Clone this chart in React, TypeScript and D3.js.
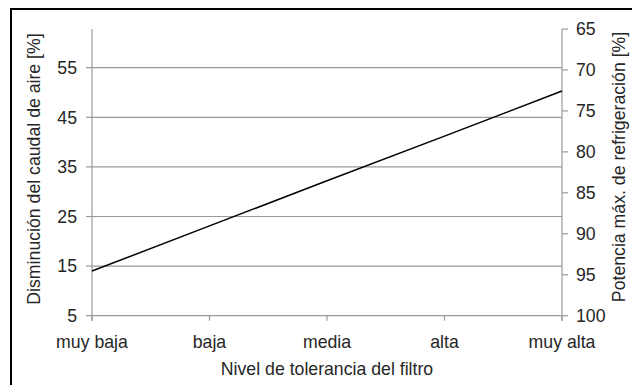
import React from "react";
import * as d3 from "d3";

const categories = ["muy baja", "baja", "media", "alta", "muy alta"];
const reduction = [14.0, 23.1, 32.2, 41.2, 50.3];
const leftTicks = [5, 15, 25, 35, 45, 55];
const gridTicks = [15, 25, 35, 45, 55];
const rightTicks = [65, 70, 75, 80, 85, 90, 95, 100];

const W = 632;
const H = 385;
const FONT = "'Liberation Sans', Arial, Helvetica, sans-serif";
const TEXT = "#262626";
const GRID = "#9a9a9a";

export default function App() {
  const x = d3.scalePoint<string>().domain(categories).range([92, 562]);
  const yL = d3.scaleLinear().domain([5, 62.8]).range([315.7, 29]);
  const yR = d3.scaleLinear().domain([100, 65]).range([315.7, 29]);
  const line = d3
    .line<number>()
    .x((_, i) => x(categories[i]) as number)
    .y((d) => yL(d));
  const x0 = x.range()[0];
  const x1 = x.range()[1];
  const fs = 17.7;
  return (
    <svg
      width={W}
      height={H}
      style={{ position: "absolute", left: 0, top: 0, background: "#fff" }}
      fontFamily={FONT}
    >
      <rect x={0} y={0} width={W} height={H} fill="#fff" />
      {/* outer frame */}
      <line x1={11} y1={9} x2={W} y2={9} stroke="#000" strokeWidth={2} />
      <line x1={11} y1={8} x2={11} y2={H} stroke="#000" strokeWidth={2} />

      {/* gridlines */}
      {gridTicks.map((t) => (
        <line key={"g" + t} x1={x0} x2={x1} y1={yL(t)} y2={yL(t)} stroke={GRID} strokeWidth={1.2} />
      ))}

      {/* left axis */}
      <line x1={x0} x2={x0} y1={yL.range()[1]} y2={yL.range()[0] + 5} stroke={GRID} strokeWidth={1.2} />
      {leftTicks.map((t) => (
        <g key={"l" + t}>
          <line x1={x0 - 6} x2={x0} y1={yL(t)} y2={yL(t)} stroke={GRID} strokeWidth={1.2} />
          <text x={77} y={yL(t)} dy="0.36em" textAnchor="end" fontSize={fs} fill={TEXT}>
            {t}
          </text>
        </g>
      ))}

      {/* right axis */}
      <line x1={x1} x2={x1} y1={yR.range()[1]} y2={yR.range()[0] + 5} stroke={GRID} strokeWidth={1.2} />
      {rightTicks.map((t) => (
        <g key={"r" + t}>
          <line x1={x1} x2={x1 + 6} y1={yR(t)} y2={yR(t)} stroke={GRID} strokeWidth={1.2} />
          <text x={576} y={yR(t)} dy="0.36em" textAnchor="start" fontSize={fs} fill={TEXT}>
            {t}
          </text>
        </g>
      ))}

      {/* bottom axis */}
      <line x1={x0} x2={x1} y1={yL(5)} y2={yL(5)} stroke={GRID} strokeWidth={1.2} />
      {categories.map((c) => (
        <g key={c}>
          <line x1={x(c)} x2={x(c)} y1={yL(5)} y2={yL(5) + 5} stroke={GRID} strokeWidth={1.2} />
          <text x={x(c)} y={348} textAnchor="middle" fontSize={fs} fill={TEXT}>
            {c}
          </text>
        </g>
      ))}

      {/* data line */}
      <path d={line(reduction) || ""} fill="none" stroke="#000" strokeWidth={1.5} />

      {/* axis titles */}
      <text
        transform={`translate(40,169) rotate(-90)`}
        textAnchor="middle"
        fontSize={fs}
        fill={TEXT}
      >
        Disminución del caudal de aire [%]
      </text>
      <text
        transform={`translate(625,167) rotate(-90)`}
        textAnchor="middle"
        fontSize={fs}
        fill={TEXT}
      >
        Potencia máx. de refrigeración [%]
      </text>
      <text x={327} y={375} textAnchor="middle" fontSize={fs} fill={TEXT}>
        Nivel de tolerancia del filtro
      </text>
    </svg>
  );
}
